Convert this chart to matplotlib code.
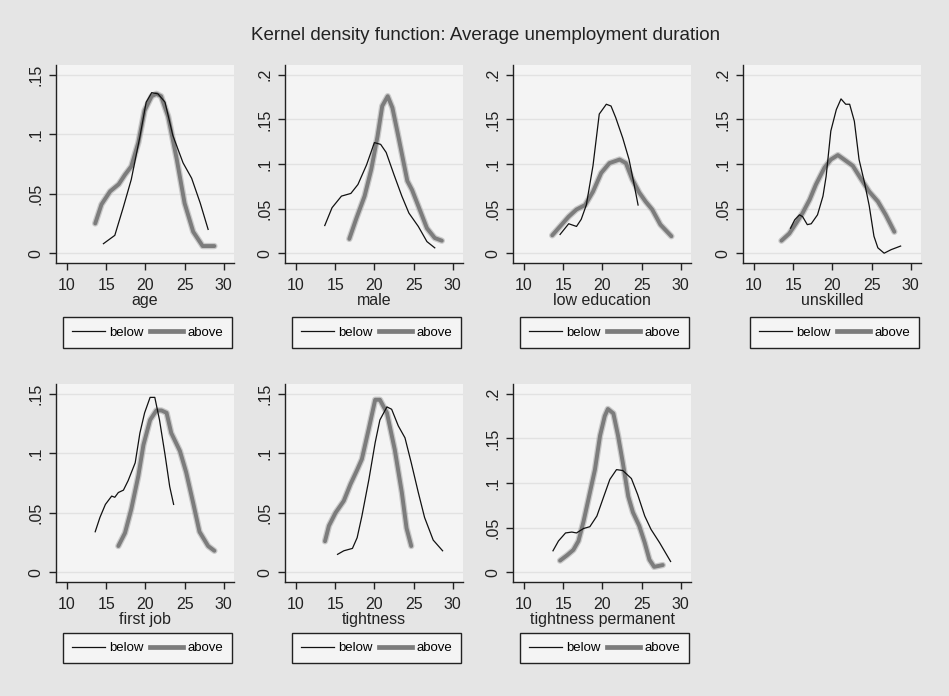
import numpy as np
import matplotlib
matplotlib.use("Agg")
import matplotlib.pyplot as plt

plt.rcParams['font.family'] = ['Liberation Sans', 'DejaVu Sans']

# kernel density estimates, (duration, density) read per group
age_below_x = [14.65, 16.1, 17.2, 18.2, 19.3, 20.1, 20.8, 21.6, 22.5, 23.5, 24.8, 25.9, 27.0, 28.0]
age_below_y = [0.008, 0.015, 0.039, 0.062, 0.098, 0.127, 0.135, 0.134, 0.127, 0.099, 0.076, 0.063, 0.042, 0.020]
age_above_x = [13.6, 14.4, 15.5, 16.6, 17.4, 18.2, 19.1, 19.9, 20.8, 21.4, 22.0, 22.9, 24.0, 25.0, 26.1, 27.3, 28.8]
age_above_y = [0.025, 0.041, 0.052, 0.058, 0.066, 0.073, 0.093, 0.120, 0.132, 0.134, 0.132, 0.115, 0.079, 0.042, 0.018, 0.006, 0.006]

male_below_x = [13.67, 14.6, 15.8, 17.0, 17.9, 19.0, 20.0, 20.8, 21.5, 22.5, 23.5, 24.4, 25.6, 26.7, 27.7]
male_below_y = [0.031, 0.051, 0.064, 0.067, 0.077, 0.099, 0.124, 0.122, 0.113, 0.088, 0.064, 0.045, 0.030, 0.013, 0.006]
male_above_x = [16.8, 17.7, 18.75, 19.6, 20.4, 21.0, 21.7, 22.3, 23.1, 24.2, 24.8, 25.6, 26.7, 27.7, 28.6]
male_above_y = [0.016, 0.039, 0.064, 0.094, 0.131, 0.165, 0.176, 0.163, 0.129, 0.081, 0.071, 0.053, 0.028, 0.017, 0.014]

edu_below_x = [14.6, 15.7, 16.7, 17.3, 17.95, 18.8, 19.6, 20.5, 21.1, 21.7, 22.6, 23.4, 24.0, 24.55]
edu_below_y = [0.021, 0.033, 0.030, 0.038, 0.054, 0.098, 0.156, 0.167, 0.165, 0.152, 0.129, 0.105, 0.079, 0.054]
edu_above_x = [13.6, 14.6, 15.7, 16.7, 17.8, 18.8, 19.85, 20.9, 22.2, 23.0, 23.8, 24.7, 25.5, 26.35, 27.4, 28.8]
edu_above_y = [0.020, 0.030, 0.041, 0.049, 0.054, 0.069, 0.090, 0.101, 0.105, 0.101, 0.083, 0.068, 0.058, 0.049, 0.032, 0.019]

unsk_below_x = [14.66, 15.2, 15.8, 16.2, 16.8, 17.3, 18.1, 18.8, 19.2, 19.8, 20.5, 21.1, 21.7, 22.2, 22.8,
                23.4, 24.1, 24.7, 25.3, 25.8, 26.6, 27.5, 28.7]
unsk_below_y = [0.028, 0.0375, 0.043, 0.041, 0.032, 0.033, 0.043, 0.064, 0.086, 0.137, 0.161, 0.173, 0.167, 0.167, 0.148,
                0.105, 0.079, 0.053, 0.019, 0.006, 0.000, 0.004, 0.008]
unsk_above_x = [13.5, 14.5, 15.4, 16.2, 17.1, 17.9, 19.0, 19.8, 20.7, 21.5, 22.6, 23.6, 24.7, 25.8, 26.8, 27.9]
unsk_above_y = [0.014, 0.022, 0.034, 0.045, 0.060, 0.077, 0.096, 0.105, 0.110, 0.105, 0.098, 0.084, 0.069, 0.058, 0.043, 0.024]

job_below_x = [13.6, 14.2, 14.9, 15.7, 16.1, 16.55, 17.2, 17.8, 18.7, 19.3, 19.9, 20.6, 21.2, 21.8, 22.5, 23.1, 23.6]
job_below_y = [0.034, 0.046, 0.057, 0.064, 0.063, 0.067, 0.069, 0.077, 0.092, 0.117, 0.134, 0.147, 0.147, 0.128, 0.099, 0.072, 0.057]
job_above_x = [16.55, 17.4, 18.2, 19.1, 19.75, 20.6, 21.4, 22.05, 22.7, 23.3, 24.4, 25.2, 26.1, 26.9, 28.0, 28.8]
job_above_y = [0.022, 0.033, 0.053, 0.081, 0.107, 0.128, 0.136, 0.136, 0.134, 0.117, 0.102, 0.084, 0.058, 0.034, 0.022, 0.018]

tight_below_x = [15.3, 16.1, 17.2, 17.8, 18.4, 19.3, 20.1, 20.7, 21.6, 22.2, 23.05, 23.9, 24.7, 25.6, 26.4, 27.5, 28.7]
tight_below_y = [0.015, 0.018, 0.020, 0.029, 0.047, 0.078, 0.109, 0.128, 0.139, 0.137, 0.123, 0.113, 0.092, 0.067, 0.046, 0.027, 0.018]
tight_above_x = [13.7, 14.2, 15.05, 16.1, 16.95, 17.8, 18.4, 19.3, 20.1, 20.7, 21.6, 22.6, 23.5, 24.1, 24.7]
tight_above_y = [0.026, 0.039, 0.050, 0.060, 0.074, 0.086, 0.095, 0.121, 0.145, 0.145, 0.134, 0.103, 0.067, 0.037, 0.022]

perm_below_x = [13.7, 14.4, 15.3, 16.1, 16.7, 17.6, 18.4, 19.3, 20.1, 20.95, 21.8, 22.6, 23.7, 24.5, 25.4, 26.2, 27.3, 28.7]
perm_below_y = [0.024, 0.035, 0.044, 0.045, 0.044, 0.049, 0.051, 0.063, 0.083, 0.104, 0.115, 0.114, 0.105, 0.087, 0.063, 0.048, 0.033, 0.012]
perm_above_x = [14.6, 15.5, 16.3, 16.95, 17.6, 18.4, 19.05, 19.7, 20.3, 20.7, 21.4, 22.0, 22.6, 23.3, 23.9, 24.7, 25.4, 26.0, 26.6, 27.7]
perm_above_y = [0.013, 0.019, 0.025, 0.035, 0.057, 0.089, 0.115, 0.153, 0.175, 0.183, 0.178, 0.153, 0.123, 0.085, 0.067, 0.052, 0.033, 0.014, 0.006, 0.008]

panels = [
    ("age", age_below_x, age_below_y, age_above_x, age_above_y, 0.15),
    ("male", male_below_x, male_below_y, male_above_x, male_above_y, 0.2),
    ("low education", edu_below_x, edu_below_y, edu_above_x, edu_above_y, 0.2),
    ("unskilled", unsk_below_x, unsk_below_y, unsk_above_x, unsk_above_y, 0.2),
    ("first job", job_below_x, job_below_y, job_above_x, job_above_y, 0.15),
    ("tightness", tight_below_x, tight_below_y, tight_above_x, tight_above_y, 0.15),
    ("tightness permanent", perm_below_x, perm_below_y, perm_above_x, perm_above_y, 0.2),
]

ytick_sets = {
    0.15: ([0, 0.05, 0.1, 0.15], ["0", ".05", ".1", ".15"]),
    0.2: ([0, 0.05, 0.1, 0.15, 0.2], ["0", ".05", ".1", ".15", ".2"]),
}

W, H = 949, 696
fig = plt.figure(figsize=(W / 100, H / 100), dpi=100, facecolor="#e5e5e5")

col_left = [56, 285, 513, 743]
row_top = [65, 384]
ax_w, ax_h = 178, 198

for i, (name, bx, by, ax_, ay, ymax) in enumerate(panels):
    r, c = divmod(i, 4)
    left = col_left[c] / W
    bottom = 1 - (row_top[r] + ax_h) / H
    ax = fig.add_axes([left, bottom, ax_w / W, ax_h / H], facecolor="#f4f4f4")

    ax.plot(bx, by, color="#111111", lw=0.9, label="below", zorder=3)
    # thick grey curve with soft halo
    ax.plot(ax_, ay, color="#a0a0a0", lw=4.6, alpha=0.5, solid_capstyle="round", zorder=2)
    ax.plot(ax_, ay, color="#7c7c7c", lw=2.8, solid_capstyle="round", zorder=2)
    ax.plot([], [], color="#7c7c7c", lw=3.4, label="above")

    ax.set_xlim(8.6, 31.3)
    pad = ymax * 0.055
    ax.set_ylim(-pad, ymax + pad)
    ax.set_xticks([10, 15, 20, 25, 30])
    yt, yl = ytick_sets[ymax]
    ax.set_yticks(yt)
    ax.set_yticklabels(yl, rotation=90, va="center")
    ax.grid(axis="y", color="#e2e2e2", lw=1)
    ax.set_axisbelow(True)
    for s in ("top", "right"):
        ax.spines[s].set_visible(False)
    for s in ("left", "bottom"):
        ax.spines[s].set_color("#222222")
        ax.spines[s].set_linewidth(1.0)
    ax.tick_params(axis="both", length=5, width=1, color="#222222", labelsize=11.5,
                   labelcolor="#222222", pad=4)
    ax.tick_params(axis="x", pad=6)
    ax.set_xlabel(name, fontsize=11.5, color="#222222", labelpad=0)

    leg_top = -0.273 if r == 0 else -0.256
    leg = ax.legend(loc="upper center", bbox_to_anchor=(0.514, leg_top), ncol=2,
                    frameon=True, fancybox=False, edgecolor="#222222",
                    facecolor="#f4f4f4", framealpha=1, fontsize=9.5,
                    handlelength=2.5, handletextpad=0.3, columnspacing=0.5,
                    borderpad=0.7, borderaxespad=0)
    leg.get_frame().set_linewidth(1.0)

fig.text(486 / W, 1 - 35 / H, "Kernel density function: Average unemployment duration",
         ha="center", va="center", fontsize=13.5, color="#222222")

fig.savefig("out.png", dpi=100, facecolor=fig.get_facecolor())
